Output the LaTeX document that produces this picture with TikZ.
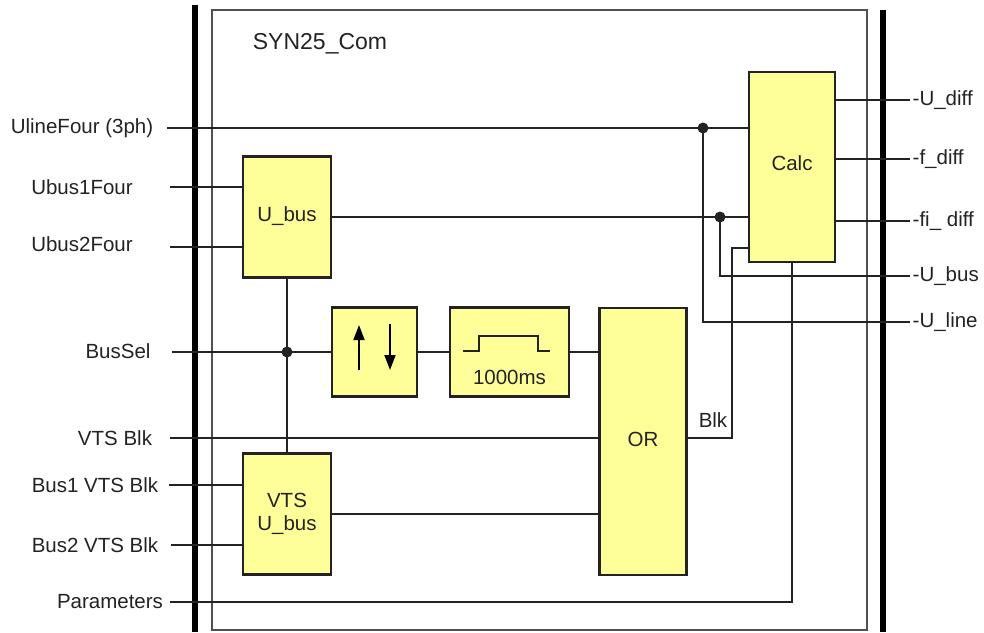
\documentclass[tikz,border=0pt]{standalone}
\usepackage{fontspec}
\setmainfont{Liberation Sans}
\usepackage{tikz}
\usetikzlibrary{arrows.meta}
\usetikzlibrary{calc}
\definecolor{blockyellow}{RGB}{255,255,153}
\definecolor{darkline}{RGB}{35,35,35}
\definecolor{framegray}{RGB}{80,80,80}
\newcommand{\drawwire}{\draw[line width=1.5pt, darkline]}
\newcommand{\drawjunction}[1]{\fill[darkline] (#1) circle (5.5pt)}
\tikzset{
    funcblock/.style={draw=darkline, line width=2.5pt, fill=blockyellow, inner sep=0pt, align=center},
    outlabel/.style={anchor=west, inner sep=2.5pt},
}

\begin{document}
\begin{tikzpicture}[x=1pt, y=-1pt, font=\fontsize{20.5}{23}\selectfont, text=darkline]
    \useasboundingbox (0,0) rectangle (984,632);

    % Draw frame and bus bars
    \draw[line width=1.6pt, framegray] (212,10) rectangle (867,630);
    \draw[line width=6pt] (195,5) -- (195,632);
    \draw[line width=6pt] (883,10) -- (883,632);
    \node (title) at (320,44) {\fontsize{23}{26}\selectfont SYN25\_Com};

    % Draw blocks
    \node[funcblock, minimum width=88pt, minimum height=121pt] (ubus) at (287,217) {\raisebox{5pt}{U\_bus}};
    \node[funcblock, minimum width=88pt, minimum height=121pt] (vtsbus) at (287,514) {VTS\\U\_bus};
    \node[funcblock, minimum width=85pt, minimum height=89pt] (switch) at (374.5,352) {};
    \node[funcblock, minimum width=119pt, minimum height=89pt] (timer) at (509.5,352) {};
    \node[funcblock, minimum width=87pt, minimum height=267pt] (orgate) at (643,441.5) {\raisebox{4pt}{OR}};
    \node[funcblock, minimum width=86pt, minimum height=190pt] (calc) at (792,167) {\raisebox{8pt}{Calc}};

    % Switch arrows and pulse
    \draw[line width=1.8pt, -{Triangle[length=15pt, width=11pt]}] ($(switch.center)+(-15.5,18)$) -- ++(0,-45);
    \draw[line width=1.8pt, -{Triangle[length=15pt, width=11pt]}] ($(switch.center)+(15.5,-28)$) -- ++(0,46);
    \draw[line width=1.5pt, darkline] ($(timer.center)+(-46.5,-1)$) -- ++(16,0) -- ++(0,-15) -- ++(59,0) -- ++(0,15) -- ++(12,0);
    \node (delay) at ($(timer.center)+(0,25)$) {1000ms};

    % Inputs
    \node (uline) at (82,128) {UlineFour (3ph)};
    \node (ubusone) at (82,187) {Ubus1Four};
    \node (ubustwo) at (82,244) {Ubus2Four};
    \node (bussel) at (118,351) {BusSel};
    \node (vtsblk) at (115,438) {VTS Blk};
    \node (busonevts) at (95,485) {Bus1 VTS Blk};
    \node (bustwovts) at (95,545) {Bus2 VTS Blk};
    \node (params) at (110,602) {Parameters};

    \coordinate (ulinepin) at (167,128);
    \coordinate (ubusonepin) at (170,187);
    \coordinate (ubustwopin) at (170,247);
    \coordinate (busselpin) at (172,351);
    \coordinate (vtsblkpin) at (170,438);
    \coordinate (busonevtspin) at (169,485);
    \coordinate (bustwovtspin) at (171,545);
    \coordinate (paramspin) at (170,602);

    % Outputs
    \node[outlabel] (udiff) at (910,100) {-U\_diff};
    \node[outlabel] (fdiff) at (910,159) {-f\_diff};
    \node[outlabel] (fidiff) at (910,221) {-fi\_ diff};
    \node[outlabel] (ubusout) at (910,276) {-U\_bus};
    \node[outlabel] (ulineout) at (910,322) {-U\_line};
    \node (blk) at (713,420) {Blk};

    % Draw wires
    \coordinate (ulinejoin) at (703,128);
    \coordinate (ubusjoin) at (720,217);
    \coordinate (busseljoin) at (287,352);
    \coordinate (blkturn) at (732,248);

    \drawwire (ulinepin) -- (ulinepin -| calc.west);
    \drawwire (ulinejoin) |- (ulineout.west);
    \drawwire (ubusonepin) -- (ubusonepin -| ubus.west);
    \drawwire (ubustwopin) -- (ubustwopin -| ubus.west);
    \drawwire (ubus.east) -- (ubus.east -| calc.west);
    \drawwire (ubusjoin) |- (ubusout.west);
    \drawwire (ubus.south) -- (vtsbus.north);
    \drawwire (busselpin |- switch.west) -- (switch.west);
    \drawwire (switch.east) -- (timer.west);
    \drawwire (timer.east) -- (timer.east -| orgate.west);
    \drawwire (vtsblkpin) -- (vtsblkpin -| orgate.west);
    \drawwire (busonevtspin) -- (busonevtspin -| vtsbus.west);
    \drawwire (bustwovtspin) -- (bustwovtspin -| vtsbus.west);
    \drawwire (vtsbus.east) -- (vtsbus.east -| orgate.west);
    \drawwire (paramspin) -| (calc.south);
    \drawwire (orgate.east |- vtsblkpin) -| (blkturn) -- (blkturn -| calc.west);
    \drawwire (calc.east |- udiff.west) -- (udiff.west);
    \drawwire (calc.east |- fdiff.west) -- (fdiff.west);
    \drawwire (calc.east |- fidiff.west) -- (fidiff.west);

    \drawjunction{ulinejoin};
    \drawjunction{ubusjoin};
    \drawjunction{busseljoin};
\end{tikzpicture}
\end{document}
